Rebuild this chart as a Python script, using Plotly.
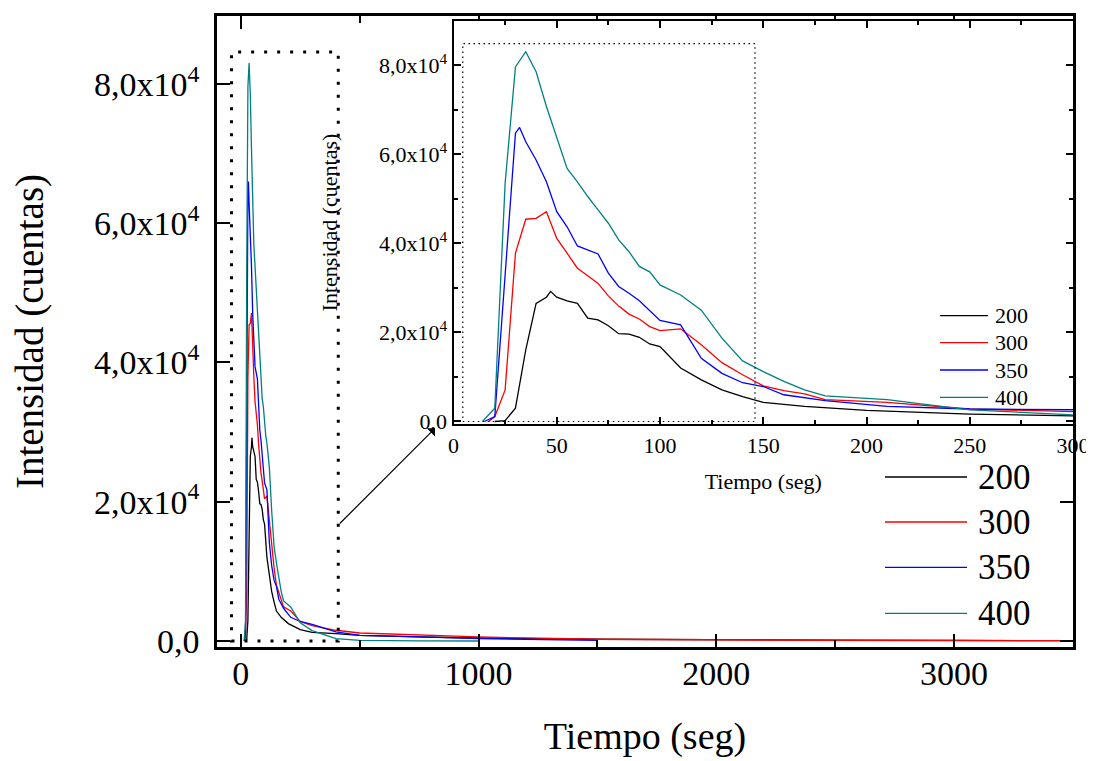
import plotly.graph_objects as go

# ---------------- data ----------------
series_names = ["200", "300", "350", "400"]
series_colors = ["#000000", "#FF0000", "#0000FF", "#008080"]

t200 = [20, 25, 30, 35, 40, 45, 47, 50, 55, 60, 65, 70, 75, 80, 85, 90, 95, 100,
        110, 120, 130, 140, 150, 170, 200, 250, 300, 400, 500, 750, 1000, 1500,
        2000, 2500, 3000, 3500]
y200 = [0, 200, 3000, 16100, 26500, 27900, 29200, 27900, 27100, 26500, 23200,
        22800, 21500, 19700, 19600, 18900, 17400, 16800, 12000, 9350, 7100, 5600,
        4300, 3400, 2500, 1650, 1250, 1050, 800, 580, 430, 250, 170, 120, 80, 50]

t300 = [17, 20, 25, 30, 35, 40, 45, 50, 55, 60, 65, 70, 75, 80, 85, 90, 95, 100,
        110, 120, 130, 140, 150, 160, 170, 180, 210, 250, 300, 400, 500, 750,
        1000, 1500, 2000, 2500, 3000, 3500]
y300 = [0, 1100, 7100, 37800, 45400, 45600, 47100, 41100, 37800, 34400, 32700,
        31000, 28200, 25900, 24100, 23000, 21300, 20400, 20800, 17200, 13200,
        10500, 8000, 6950, 6200, 4900, 4300, 2800, 2200, 1540, 1150, 910, 580,
        250, 150, 100, 70, 50]

t350 = [15, 20, 30, 32, 35, 40, 45, 50, 55, 60, 70, 75, 80, 85, 90, 100, 110,
        120, 130, 140, 150, 160, 180, 210, 250, 300, 400, 500, 750, 1000, 1500]
y350 = [0, 1100, 64700, 66000, 62800, 58700, 53800, 47100, 43700, 39400, 37600,
        33300, 30300, 28800, 27100, 22700, 21700, 14200, 10800, 8700, 7850, 6000,
        4700, 3400, 2800, 2400, 1300, 820, 580, 350, 100]

t400 = [14, 20, 25, 30, 35, 40, 45, 50, 55, 60, 65, 70, 75, 80, 85, 90, 95, 100,
        105, 110, 120, 130, 140, 150, 160, 170, 180, 210, 250, 300, 400, 500,
        750, 1000]
y400 = [0, 3000, 53500, 79600, 83000, 78500, 70700, 63500, 56800, 53800, 50500,
        47500, 44500, 40750, 38100, 34800, 33600, 30650, 29500, 28400, 25000,
        18700, 13600, 11200, 9000, 7100, 5750, 4900, 2600, 1500, 340, 100, 30, 0]

y_tickvals = [0, 20000, 40000, 60000, 80000]
y_ticktext = ["0,0", "2,0x10<sup>4</sup>", "4,0x10<sup>4</sup>",
              "6,0x10<sup>4</sup>", "8,0x10<sup>4</sup>"]
main_x_ticks = [0, 1000, 2000, 3000]
inset_x_ticks = [0, 50, 100, 150, 200, 250, 300]

times_t = [t200, t300, t350, t400]
values_y = [y200, y300, y350, y400]

FONT = "Liberation Serif"

# page geometry: the html body has an 8px margin, so the figure starts at (8, 8)
OFF = 8
W, H = 1094 - OFF, 761 - OFF
ML, MR, MT, MB = 209, 21, 8, 114
PW, PH = W - ML - MR, H - MT - MB


def px_x(page_px):
    return (page_px - OFF - ML) / PW


def px_y(page_py):
    return (H - MB - (page_py - OFF)) / PH


fig = go.Figure()

# main plot traces
for name, col, t, y in zip(series_names, series_colors, times_t, values_y):
    fig.add_trace(go.Scatter(x=t, y=y, mode="lines", name=name,
                             line=dict(color=col, width=1.3),
                             xaxis="x", yaxis="y", showlegend=False))
# inset traces
for name, col, t, y in zip(series_names, series_colors, times_t, values_y):
    fig.add_trace(go.Scatter(x=t, y=y, mode="lines", name=name,
                             line=dict(color=col, width=1.3),
                             xaxis="x2", yaxis="y2", showlegend=False))

axis_common = dict(showgrid=False, zeroline=False, showline=True,
                   linecolor="black", mirror="ticks", ticks="inside",
                   tickcolor="black", automargin=False)

fig.update_layout(
    width=W, height=H,
    margin=dict(l=ML, r=MR, t=MT, b=MB),
    paper_bgcolor="white", plot_bgcolor="white",
    font=dict(family=FONT, color="black"),
    showlegend=False,
    xaxis=dict(**axis_common, domain=[0, 1], range=[-100, 3500], anchor="y",
               linewidth=2.5, ticklen=13, tickwidth=2,
               tickmode="array", tickvals=main_x_ticks,
               ticktext=[str(v) for v in main_x_ticks],
               minor=dict(ticks="inside", ticklen=7, tickwidth=2,
                          dtick=500, tick0=0, tickcolor="black"),
               tickfont=dict(size=34, family=FONT), ticklabelstandoff=-6,
               title=dict(text="Tiempo (seg)", font=dict(size=38, family=FONT),
                          standoff=32)),
    yaxis=dict(**axis_common, domain=[0, 1], range=[-862, 89755], anchor="x",
               linewidth=2.5, ticklen=13, tickwidth=2,
               tickmode="array", tickvals=y_tickvals, ticktext=y_ticktext,
               tickfont=dict(size=34, family=FONT), ticklabelstandoff=8,
               title=dict(text="Intensidad (cuentas)",
                          font=dict(size=39, family=FONT), standoff=44)),
    xaxis2=dict(**axis_common, domain=[px_x(453.5), 1], range=[0, 300],
                anchor="y2", linewidth=2, ticklen=7, tickwidth=1.5,
                tickmode="array", tickvals=inset_x_ticks,
                ticktext=[str(v) for v in inset_x_ticks],
                minor=dict(ticks="inside", ticklen=4, tickwidth=1.5,
                           dtick=25, tick0=0, tickcolor="black"),
                tickfont=dict(size=22, family=FONT),
                title=dict(text="Tiempo (seg)", font=dict(size=22, family=FONT),
                           standoff=17)),
    yaxis2=dict(**axis_common, domain=[px_y(424.3), px_y(20.7)],
                range=[-630, 89960], anchor="x2", linewidth=2, ticklen=7,
                tickwidth=1.5, tickmode="array", tickvals=y_tickvals,
                ticktext=y_ticktext,
                minor=dict(ticks="inside", ticklen=4, tickwidth=1.5,
                           dtick=10000, tick0=0, tickcolor="black"),
                tickfont=dict(size=22, family=FONT), ticklabelstandoff=0,
                title=dict(text="Intensidad (cuentas)",
                           font=dict(size=22, family=FONT), standoff=35)),
)

# dotted zoom box on the main plot
fig.add_shape(type="rect", xref="x", yref="y", x0=-39, x1=410, y0=0, y1=84600,
              line=dict(color="black", width=3, dash="3px,10px"),
              fillcolor="rgba(0,0,0,0)")
# dotted box inside the inset
fig.add_shape(type="rect", xref="x2", yref="y2", x0=4.5, x1=146, y0=0, y1=84800,
              line=dict(color="black", width=1.2, dash="1.5px,3.5px"),
              fillcolor="rgba(0,0,0,0)")

# arrow from the zoom box to the inset
fig.add_annotation(x=px_x(435), y=px_y(428.3), xref="paper", yref="paper",
                   ax=-96.7, ay=96.7, axref="pixel", ayref="pixel",
                   text="", showarrow=True, arrowhead=1, arrowsize=1.6,
                   arrowwidth=1.2, arrowcolor="black", standoff=0)

# legends (main plot: large, inset: small)
main_leg_rows = [477, 522, 567.4, 613.4]
inset_leg_rows = [315.7, 342.7, 370, 397.3]
for name, col, ym, yi in zip(series_names, series_colors, main_leg_rows,
                             inset_leg_rows):
    fig.add_shape(type="line", xref="paper", yref="paper",
                  x0=px_x(885), x1=px_x(967), y0=px_y(ym), y1=px_y(ym),
                  line=dict(color=col, width=1.3))
    fig.add_annotation(x=px_x(976), y=px_y(ym), xref="paper", yref="paper",
                       text=name, showarrow=False, xanchor="left",
                       yanchor="middle", font=dict(size=35, family=FONT))
    fig.add_shape(type="line", xref="paper", yref="paper",
                  x0=px_x(940), x1=px_x(988), y0=px_y(yi), y1=px_y(yi),
                  line=dict(color=col, width=1.3))
    fig.add_annotation(x=px_x(993), y=px_y(yi), xref="paper", yref="paper",
                       text=name, showarrow=False, xanchor="left",
                       yanchor="middle", font=dict(size=22, family=FONT))

fig.write_html("out.html")
